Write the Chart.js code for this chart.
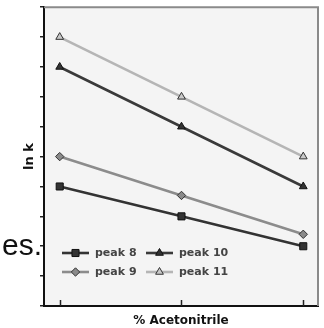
<!DOCTYPE html>
<html><head><meta charset="utf-8">
<script src="https://cdn.jsdelivr.net/npm/chart.js@4/dist/chart.umd.min.js"></script>
<style>
html,body{margin:0;padding:0;background:#fff;}
#wrap{position:relative;width:324px;height:328px;}
#stray{position:absolute;left:2px;top:230px;font-family:"Liberation Sans",Arial,sans-serif;font-size:30px;color:#111;line-height:1;}
</style></head>
<body>
<div id="wrap"><canvas id="c" width="324" height="328"></canvas><div id="stray">es.</div></div>
<script>
const categories = [0, 1, 2];
const seriesNames = ['peak 8', 'peak 9', 'peak 10', 'peak 11'];
const peak8 = [4, 3, 2];
const peak9 = [5, 3.7, 2.4];
const peak10 = [8, 6, 4];
const peak11 = [9, 7, 5];
const yTicks = [0,1,2,3,4,5,6,7,8,9,10];

const styles = [
  {line:'#333333', fill:'#333333', border:'#111111', pointStyle:'rect', r:5},
  {line:'#8c8c8c', fill:'#8a8a8a', border:'#333333', pointStyle:'rectRot', r:4.2},
  {line:'#3a3a3a', fill:'#333333', border:'#111111', pointStyle:'triangle', r:4.5},
  {line:'#b5b5b5', fill:'#c9c9c9', border:'#333333', pointStyle:'triangle', r:4.5}
];
const values = [peak8, peak9, peak10, peak11];
const datasets = values.map((vals, i) => ({
  label: seriesNames[i],
  data: categories.map((c, j) => ({x: c, y: vals[j]})),
  borderColor: styles[i].line,
  borderWidth: 2.6,
  pointStyle: styles[i].pointStyle,
  pointRadius: styles[i].r,
  pointBackgroundColor: styles[i].fill,
  pointBorderColor: styles[i].border,
  pointBorderWidth: 1,
  tension: 0,
  fill: false
}));

const framePlugin = {
  id: 'frame',
  beforeDraw(chart) {
    const {ctx, chartArea: a} = chart;
    ctx.save();
    ctx.fillStyle = '#f4f4f4';
    ctx.fillRect(a.left, a.top, a.right - a.left, a.bottom - a.top);
    ctx.restore();
  },
  afterDraw(chart) {
    const {ctx, chartArea: a} = chart;
    ctx.save();
    ctx.strokeStyle = '#8a8a8a';
    ctx.lineWidth = 2;
    ctx.beginPath();
    ctx.moveTo(a.left, a.top); ctx.lineTo(a.right, a.top); ctx.lineTo(a.right, a.bottom);
    ctx.stroke();
    const xs = chart.scales.x;
    ctx.strokeStyle = '#222';
    ctx.lineWidth = 1.5;
    categories.forEach(c => {
      const px = Math.round(xs.getPixelForValue(c)) + 0.5;
      ctx.beginPath(); ctx.moveTo(px, a.bottom); ctx.lineTo(px, a.bottom - 6); ctx.stroke();
    });
    const entries = [
      {i:0, x:62, y:253}, {i:2, x:146, y:253},
      {i:1, x:62, y:272}, {i:3, x:146, y:272}
    ];
    entries.forEach(e => {
      const s = styles[e.i];
      ctx.strokeStyle = s.line; ctx.lineWidth = 2.6;
      ctx.beginPath(); ctx.moveTo(e.x, e.y); ctx.lineTo(e.x + 27, e.y); ctx.stroke();
      ctx.fillStyle = s.fill; ctx.strokeStyle = s.border; ctx.lineWidth = 1;
      Chart.helpers.drawPoint(ctx, {pointStyle: s.pointStyle, radius: s.r, rotation: 0, borderWidth: 1}, e.x + 13.5, e.y);
      ctx.fillStyle = '#444';
      ctx.font = 'bold 11px "DejaVu Sans", sans-serif';
      ctx.textBaseline = 'middle';
      ctx.textAlign = 'left';
      ctx.fillText(seriesNames[e.i], e.x + 33, e.y + 0.5);
    });
    ctx.restore();
  }
};

new Chart(document.getElementById('c'), {
  type: 'line',
  data: { datasets },
  plugins: [framePlugin],
  options: {
    responsive: false,
    animation: false,
    devicePixelRatio: 1,
    layout: { padding: { top: 6, right: 1, left: 0, bottom: 0 } },
    plugins: { legend: { display: false }, tooltip: { enabled: false } },
    scales: {
      x: {
        type: 'linear', min: -0.129, max: 2.121,
        afterFit(s) { s.height = 22; },
        ticks: { display: false, includeBounds: false, stepSize: 1 },
        grid: { display: false, drawTicks: false },
        border: { display: true, color: '#111', width: 2 },
        title: { display: true, text: '% Acetonitrile', color: '#111', font: { family: '"DejaVu Sans"', weight: 'bold', size: 12 }, padding: { top: 3, bottom: 0 } }
      },
      y: {
        type: 'linear', min: 0, max: 10,
        afterFit(s) { s.width = 44; },
        afterBuildTicks(s) { s.ticks = yTicks.map(v => ({value: v})); },
        ticks: { callback: () => '', padding: 0 },
        grid: { drawOnChartArea: false, drawTicks: true, tickLength: 4, color: '#222', lineWidth: 1.5 },
        border: { display: true, color: '#111', width: 2 },
        title: { display: true, text: 'ln k', color: '#111', font: { family: '"DejaVu Sans"', weight: 'bold', size: 13 }, padding: { top: 22, bottom: 0 } }
      }
    }
  }
});
</script>
</body></html>
